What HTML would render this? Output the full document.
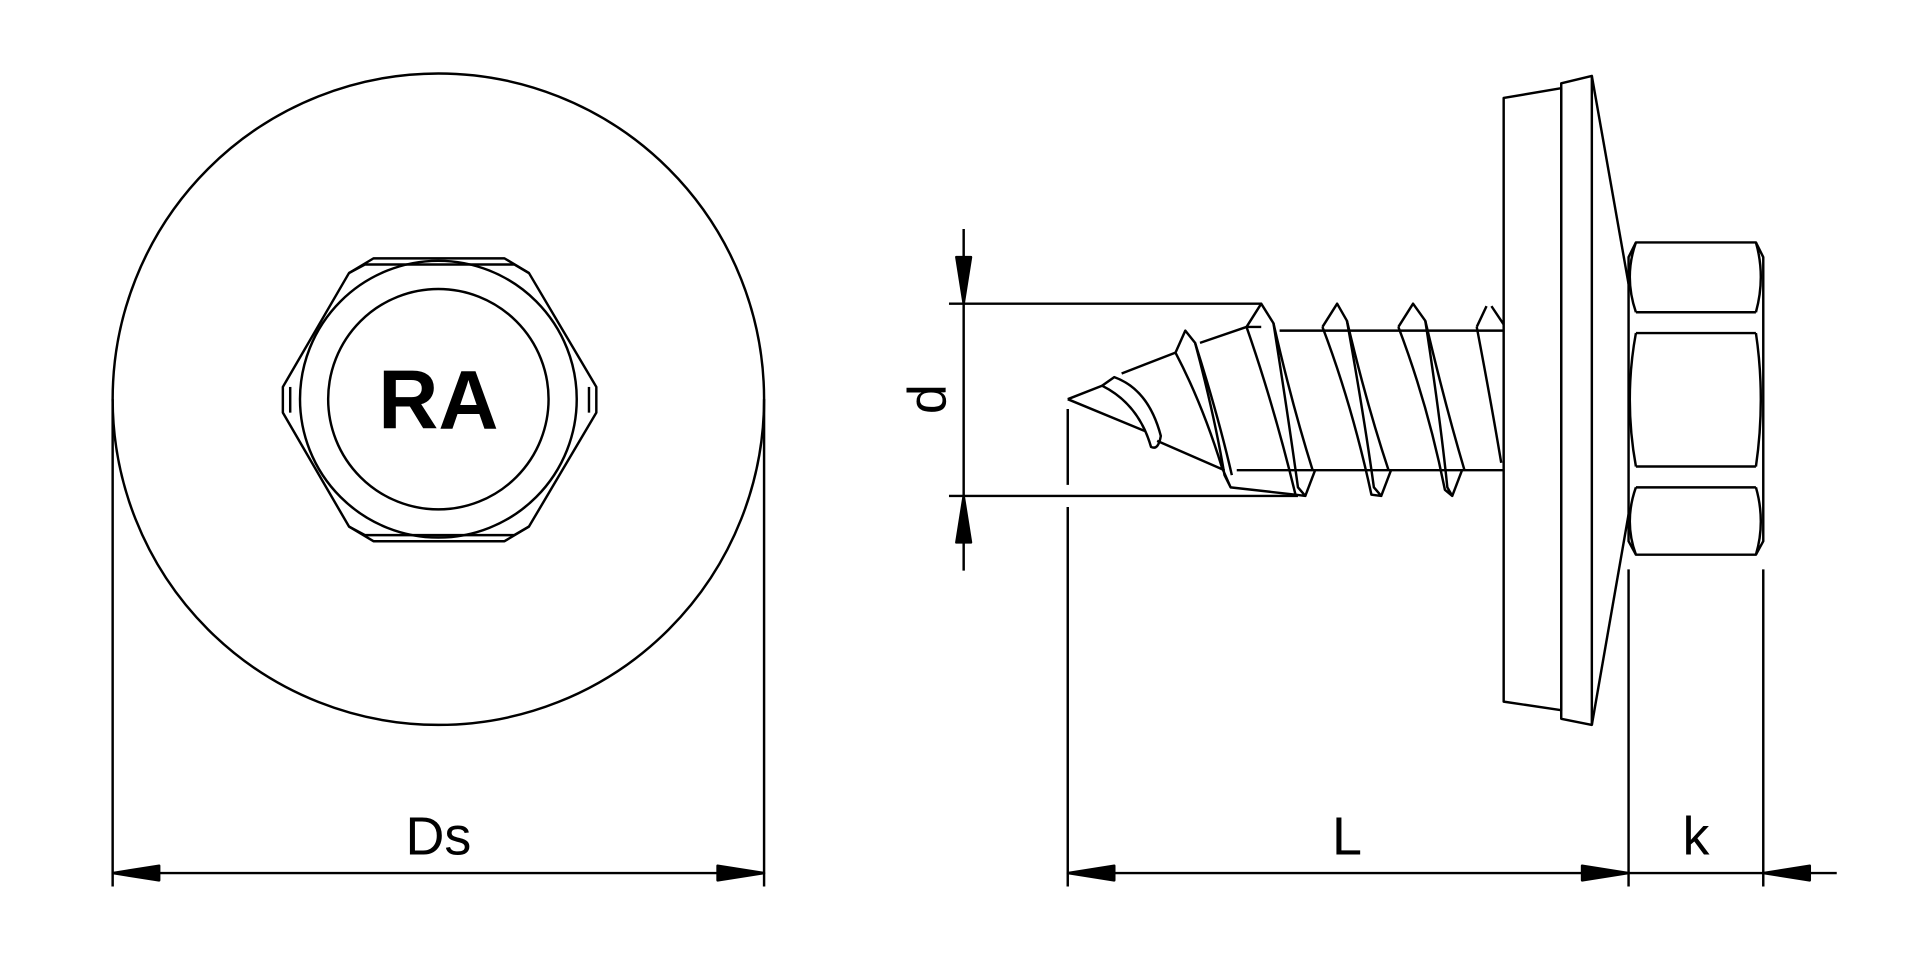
<!DOCTYPE html>
<html><head><style>html,body{margin:0;padding:0;background:#fff;}svg{display:block}</style></head>
<body>
<svg width="1920" height="960" viewBox="0 0 1568 784" xmlns="http://www.w3.org/2000/svg" fill="none" stroke="#000" stroke-width="2" stroke-linejoin="round">
<!-- left view -->
<circle cx="358" cy="326" r="266"/>
<polygon points="305,211 412,211 432,223 487,316 487,337 432,430 412,442 305,442 285,430 231,337 231,316 285,223"/>
<polyline points="285,223 298,216 420,216 432,223" />
<polyline points="285,430 298,437 420,437 432,430" />
<line x1="237" y1="316" x2="237" y2="337"/><line x1="481" y1="316" x2="481" y2="337"/>
<circle cx="358" cy="326" r="113"/>
<circle cx="358" cy="326" r="90"/>
<text x="358" y="350" font-family="Liberation Sans, sans-serif" font-weight="bold" font-size="68" text-anchor="middle" fill="#000" stroke="none">RA</text>
<!-- Ds dim -->
<line x1="92" y1="326" x2="92" y2="724"/><line x1="624" y1="326" x2="624" y2="724"/>
<line x1="92" y1="713" x2="624" y2="713"/>
<polygon points="92,713 130,707 130,719" fill="#000"/><polygon points="624,713 586,707 586,719" fill="#000"/>
<text x="358" y="698" font-family="Liberation Sans, sans-serif" font-size="44" text-anchor="middle" fill="#000" stroke="none">Ds</text>
<!-- screw -->
<path d="M872,326 L900,315 M872,326 L935,352"/>
<path d="M916,305 L960,288 M945,360 L1000,384"/>
<path d="M980,280 L1018,267 L1030,267 M1005,398 L1058,404"/>
<line x1="1045" y1="270" x2="1228" y2="270"/><line x1="1010" y1="384" x2="1228" y2="384"/>
<g>
<path d="M900,315 Q930,330 940,365 Q946,368 948,356 Q938,318 910,308 Z"/>
<path d="M960,288 L968,270 L976,280 Q992,340 1000,388 L1005,398 L998,382 Q982,330 960,288"/>
<path d="M976,280 Q995,340 1006,388"/>
<path d="M1018,267 L1030,248 L1040,264 Q1052,340 1060,398 L1066,405 L1058,404 Q1040,330 1018,267"/>
<path d="M1040,264 Q1055,330 1072,384"/>
<path d="M1080,267 L1092,248 L1100,262 Q1114,340 1122,398 L1128,405 L1120,404 Q1104,330 1080,267"/>
<path d="M1100,262 Q1116,330 1134,384"/>
<path d="M1142,267 L1154,248 L1164,262 Q1176,340 1182,398 L1186,405 L1180,400 Q1166,330 1142,267"/>
<path d="M1164,262 Q1180,330 1196,384"/>
<path d="M1206,267 L1214,250 M1218,250 L1228,265 M1206,267 Q1218,330 1226,378"/>
<path d="M1186,405 L1194,384"/><path d="M1128,405 L1136,384"/><path d="M1066,405 L1074,384"/>
</g>
<!-- washer -->
<polygon points="1228,80 1275,72 1275,580 1228,573"/>
<polygon points="1275,68 1300,62 1300,592 1275,587"/>
<line x1="1300" y1="62" x2="1330" y2="232"/><line x1="1300" y1="592" x2="1330" y2="420"/>
<!-- hex head -->
<path d="M1336,198 L1434,198 L1440,210 L1440,442 L1434,453 L1336,453 L1330,442 L1330,210 Z"/>
<path d="M1336,198 Q1326,226 1336,255 M1336,272 Q1326,326 1336,381 M1336,398 Q1326,426 1336,453"/>
<path d="M1434,198 Q1442,226 1434,255 M1434,272 Q1442,326 1434,381 M1434,398 Q1442,426 1434,453"/>
<line x1="1336" y1="255" x2="1434" y2="255"/><line x1="1336" y1="272" x2="1434" y2="272"/>
<line x1="1336" y1="381" x2="1434" y2="381"/><line x1="1336" y1="398" x2="1434" y2="398"/>
<!-- d dim -->
<line x1="775" y1="248" x2="1030" y2="248"/><line x1="775" y1="405" x2="1060" y2="405"/>
<line x1="787" y1="187" x2="787" y2="466"/>
<polygon points="787,248 781,210 793,210" fill="#000"/><polygon points="787,405 781,443 793,443" fill="#000"/>
<text transform="translate(772,326) rotate(-90)" font-family="Liberation Sans, sans-serif" font-size="44" text-anchor="middle" fill="#000" stroke="none">d</text>
<!-- L/k dims -->
<line x1="872" y1="334" x2="872" y2="396"/>
<line x1="872" y1="414" x2="872" y2="724"/>
<line x1="1330" y1="465" x2="1330" y2="724"/><line x1="1440" y1="465" x2="1440" y2="724"/>
<line x1="872" y1="713" x2="1500" y2="713"/>
<polygon points="872,713 910,707 910,719" fill="#000"/><polygon points="1330,713 1292,707 1292,719" fill="#000"/>
<polygon points="1440,713 1478,707 1478,719" fill="#000"/>
<text x="1100" y="698" font-family="Liberation Sans, sans-serif" font-size="44" text-anchor="middle" fill="#000" stroke="none">L</text>
<text x="1385" y="698" font-family="Liberation Sans, sans-serif" font-size="44" text-anchor="middle" fill="#000" stroke="none">k</text>
</svg>
</body></html>
